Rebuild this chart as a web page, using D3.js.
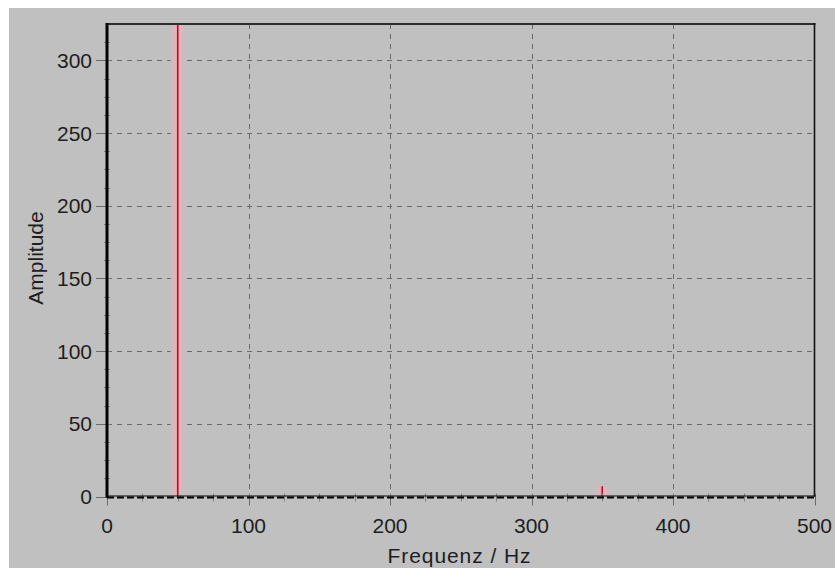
<!DOCTYPE html>
<html>
<head>
<meta charset="utf-8">
<script src="https://cdn.jsdelivr.net/npm/d3@7"></script>
<style>
  html, body { margin: 0; padding: 0; background: #ffffff; }
  svg { display: block; }
  text { font-family: "Liberation Sans", Arial, sans-serif; fill: #1e1e1e; }
</style>
</head>
<body>
<svg id="chart" width="835" height="569"></svg>
<script>
// Amplitude spectrum: spectral lines (frequency in Hz, amplitude)
const frequencies = [50, 350];
const amplitudes = [340, 7];

// Axis ticks
const xTicks = [0, 100, 200, 300, 400, 500];
const yTicks = [0, 50, 100, 150, 200, 250, 300];
const xMinorStep = 25;
const yMinorStep = 12.5;

const xLabel = "Frequenz / Hz";
const yLabel = "Amplitude";

(function () {
  const svg = d3.select("#chart");

  // window background
  svg.append("rect").attr("x", 9).attr("y", 8).attr("width", 826).attr("height", 560)
    .attr("fill", "#c0c0c0");

  const x = d3.scaleLinear().domain([0, 500]).range([107, 814.5]);
  const y = d3.scaleLinear().domain([0, 325]).range([496.5, 24]);

  const pLeft = x(0), pRight = x(500), pTop = y(325), pBottom = y(0);

  svg.append("defs").append("clipPath").attr("id", "plotClip")
    .append("rect").attr("x", pLeft).attr("y", pTop)
    .attr("width", pRight - pLeft).attr("height", pBottom - pTop);

  // dashed grid
  const grid = svg.append("g").attr("stroke", "#6a6a6a").attr("stroke-width", 1)
    .attr("stroke-dasharray", "5,5").attr("fill", "none");
  grid.selectAll("line.h").data(yTicks.filter(d => d > 0)).join("line").attr("class", "h")
    .attr("x1", pLeft).attr("x2", pRight)
    .attr("y1", d => Math.round(y(d)) + 0.5).attr("y2", d => Math.round(y(d)) + 0.5);
  grid.selectAll("line.v").data(xTicks.filter(d => d > 0 && d < 500)).join("line").attr("class", "v")
    .attr("y1", pTop).attr("y2", pBottom)
    .attr("x1", d => Math.round(x(d)) + 0.5).attr("x2", d => Math.round(x(d)) + 0.5);

  // spectral lines: soft pink glow around a dark red core
  const lines = svg.append("g").attr("clip-path", "url(#plotClip)");
  const spec = frequencies.map((f, i) => ({ f, a: amplitudes[i] }));
  const layers = [
    { cls: "halo", color: "#cdbcbf", w: 14 },
    { cls: "glow", color: "#e8b2b9", w: 8 },
    { cls: "inner", color: "#f2a2ad", w: 4 },
    { cls: "core", color: "#8e1a32", w: 1.5 }
  ];
  layers.forEach(l => {
    lines.selectAll("line." + l.cls).data(spec).join("line").attr("class", l.cls)
      .attr("x1", d => x(d.f)).attr("x2", d => x(d.f))
      .attr("y1", pBottom).attr("y2", d => y(d.a))
      .attr("stroke", l.color).attr("stroke-width", l.w);
  });

  // minor ticks
  const xMinor = d3.range(0, 500 + 0.01, xMinorStep);
  const yMinor = d3.range(0, 325, yMinorStep);
  svg.append("g").attr("stroke", "#808080").attr("stroke-width", 1)
    .selectAll("line").data(xMinor).join("line")
    .attr("x1", d => Math.round(x(d)) + 0.5).attr("x2", d => Math.round(x(d)) + 0.5)
    .attr("y1", pBottom - 3).attr("y2", pBottom + 5);
  svg.append("g").attr("stroke", "#808080").attr("stroke-width", 1)
    .selectAll("line").data(yMinor).join("line")
    .attr("x1", pLeft - 3).attr("x2", pLeft + 3)
    .attr("y1", d => Math.round(y(d)) + 0.5).attr("y2", d => Math.round(y(d)) + 0.5);

  // major ticks
  svg.append("g").attr("stroke", "#6a6a6a").attr("stroke-width", 1)
    .selectAll("line").data(yTicks).join("line")
    .attr("x1", pLeft - 11).attr("x2", pLeft)
    .attr("y1", d => Math.round(y(d)) + 0.5).attr("y2", d => Math.round(y(d)) + 0.5);
  svg.append("g").attr("stroke", "#6a6a6a").attr("stroke-width", 1)
    .selectAll("line").data(xTicks).join("line")
    .attr("x1", d => Math.round(x(d)) + 0.5).attr("x2", d => Math.round(x(d)) + 0.5)
    .attr("y1", pBottom).attr("y2", pBottom + 9);

  // frame
  svg.append("line").attr("x1", pLeft).attr("x2", pRight + 1).attr("y1", pTop).attr("y2", pTop)
    .attr("stroke", "#2e2e2e").attr("stroke-width", 2);
  svg.append("line").attr("x1", pRight).attr("x2", pRight).attr("y1", pTop - 1).attr("y2", pBottom)
    .attr("stroke", "#111").attr("stroke-width", 1.6);
  svg.append("line").attr("x1", pLeft).attr("x2", pLeft).attr("y1", pTop - 1).attr("y2", pBottom + 1)
    .attr("stroke", "#000").attr("stroke-width", 3);
  svg.append("line").attr("x1", pLeft).attr("x2", pRight + 1).attr("y1", pBottom - 0.5).attr("y2", pBottom - 0.5)
    .attr("stroke", "#000").attr("stroke-width", 1.2);
  svg.append("line").attr("x1", pLeft).attr("x2", pRight).attr("y1", pBottom + 1).attr("y2", pBottom + 1)
    .attr("stroke", "#000").attr("stroke-width", 2.2).attr("stroke-dasharray", "7,3");

  // tick labels
  svg.append("g").selectAll("text").data(yTicks).join("text")
    .attr("x", 92).attr("y", d => y(d) + 7.5)
    .attr("text-anchor", "end").attr("font-size", 21)
    .text(d => d);
  svg.append("g").selectAll("text").data(xTicks).join("text")
    .attr("x", d => x(d)).attr("y", 533)
    .attr("text-anchor", "middle").attr("font-size", 21)
    .text(d => d);

  // axis titles
  svg.append("text").attr("x", 459).attr("y", 563)
    .attr("text-anchor", "middle").attr("font-size", 21).attr("textLength", 143)
    .attr("lengthAdjust", "spacing").text(xLabel);
  svg.append("text").attr("transform", "translate(43,258) rotate(-90)")
    .attr("text-anchor", "middle").attr("font-size", 21).text(yLabel);
})();
</script>
</body>
</html>
